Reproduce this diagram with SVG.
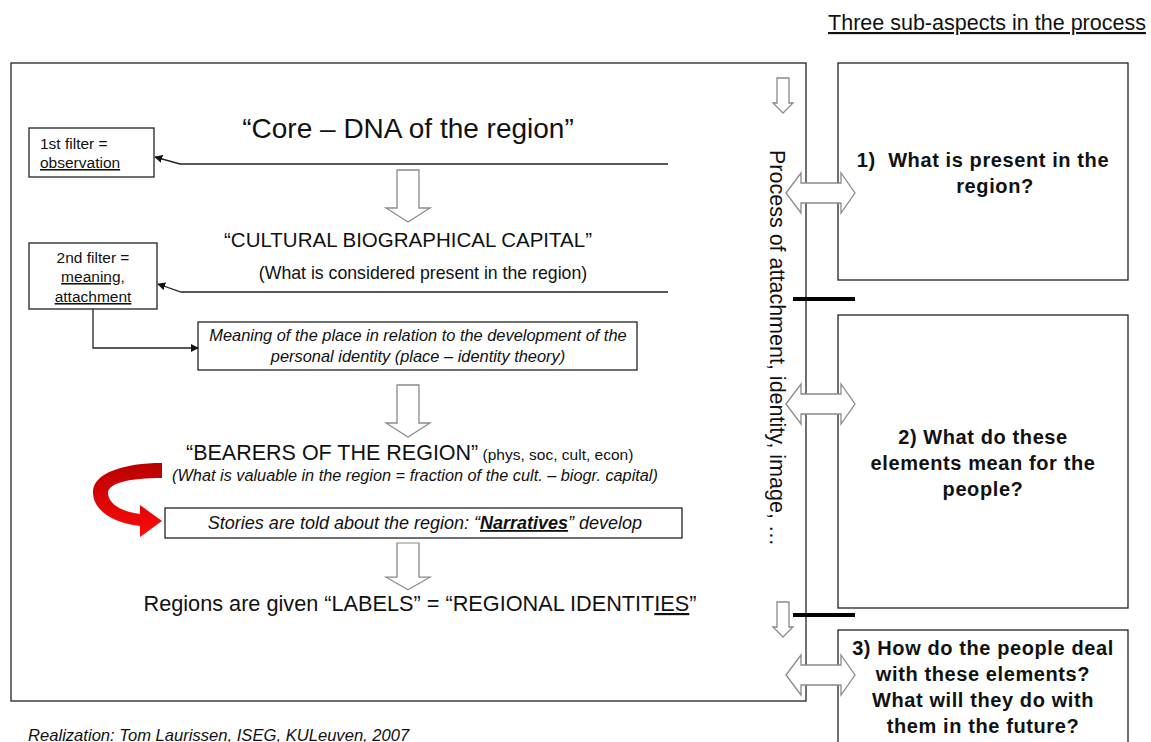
<svg xmlns="http://www.w3.org/2000/svg" width="1151" height="742" viewBox="0 0 1151 742">
  <style>
    text { font-family: "Liberation Sans", Arial, sans-serif; fill: #111; }
    .box { fill: #fff; stroke: #222; stroke-width: 1.3; }
    .flow { fill: #fff; stroke: #8a8a8a; stroke-width: 1.3; }
    .dbl { fill: #fff; stroke: #8a8a8a; stroke-width: 1.3; }
    .wire { fill: none; stroke: #222; stroke-width: 1.3; }
    .bar { stroke: #000; stroke-width: 4; }
    .it { font-style: italic; }
    .q { font-weight: bold; font-size: 20px; letter-spacing: 0.6px; }
    .u { text-decoration: underline; }
  </style>
  <defs>
    <marker id="tip" viewBox="0 0 10 10" refX="9" refY="5" markerWidth="8" markerHeight="8" markerUnits="userSpaceOnUse" orient="auto">
      <path d="M0,0 L10,5 L0,10 Z" fill="#111"/>
    </marker>
    <linearGradient id="redband" x1="0" y1="0" x2="0" y2="1">
      <stop offset="0" stop-color="#b80000"/>
      <stop offset="1" stop-color="#ff0a0a"/>
    </linearGradient>
    <!-- hollow downward block arrow, origin at the top-left of its shaft bounding box -->
    <path id="down" d="M11,0 H33 V38 H44 L22,52 L0,38 H11 Z"/>
    <path id="downSmall" d="M4,0 H16 V25 H20 L10,35 L0,25 H4 Z"/>
    <!-- two-headed block arrow centred on y=0 -->
    <path id="both" d="M786,0 L801,-20 L801,-10 L841,-10 L841,-20 L855,0 L841,20 L841,10 L801,10 L801,20 Z"/>
  </defs>

  <rect width="1151" height="742" fill="#fff"/>

  <!-- heading over the right column -->
  <text x="987" y="30" font-size="21.5" text-anchor="middle" class="u">Three sub-aspects in the process</text>

  <!-- main frame -->
  <g id="main-frame">
    <rect class="box" x="11" y="63" width="795" height="638"/>
  </g>

  <g id="core-dna">
    <text x="408" y="138" font-size="28" text-anchor="middle">“Core – DNA of the region”</text>
  </g>

  <g id="filter-1">
    <rect class="box" x="29" y="128" width="125" height="49"/>
    <text x="40" y="149" font-size="15.5">1st filter =</text>
    <text x="40" y="168" font-size="15.5" class="u">observation</text>
  </g>

  <g id="cultural-capital">
    <text x="408" y="247" font-size="20.5" text-anchor="middle">“CULTURAL BIOGRAPHICAL CAPITAL”</text>
    <text x="423" y="279" font-size="17.7" text-anchor="middle">(What is considered present in the region)</text>
  </g>

  <g id="filter-2">
    <rect class="box" x="29" y="243" width="128" height="66"/>
    <text x="93" y="263" font-size="15.5" text-anchor="middle">2nd filter =</text>
    <text x="93" y="282" font-size="15.5" text-anchor="middle" class="u">meaning,</text>
    <text x="93" y="302" font-size="15.5" text-anchor="middle" class="u">attachment</text>
  </g>

  <g id="place-identity">
    <rect class="box" x="198" y="322" width="439" height="48"/>
    <text x="418" y="341" font-size="16.4" text-anchor="middle" class="it">Meaning of the place in relation to the development of the</text>
    <text x="418" y="362" font-size="16.4" text-anchor="middle" class="it">personal identity (place – identity theory)</text>
  </g>

  <g id="bearers">
    <text x="186" y="460"><tspan font-size="21.5">“BEARERS OF THE REGION”</tspan><tspan font-size="15.5"> (phys, soc, cult, econ)</tspan></text>
    <text x="415" y="481" font-size="16.3" text-anchor="middle" class="it">(What is valuable in the region = fraction of the cult. – biogr. capital)</text>
  </g>

  <g id="narratives">
    <rect class="box" x="165" y="508" width="517" height="30"/>
    <text x="425" y="529" font-size="18" text-anchor="middle" class="it">Stories are told about the region: “<tspan font-weight="bold" class="u">Narratives</tspan>” develop</text>
  </g>

  <g id="regional-identities">
    <text x="420" y="611" font-size="21.7" text-anchor="middle">Regions are given “LABELS” = “REGIONAL IDENTIT<tspan class="u">IES</tspan>”</text>
  </g>

  <g id="aspect-1">
    <rect class="box" x="838" y="63" width="290" height="217"/>
    <text x="983" y="167" class="q" text-anchor="middle" xml:space="preserve">1)  What is present in the</text>
    <text x="995" y="193" class="q" text-anchor="middle">region?</text>
  </g>

  <g id="aspect-2">
    <rect class="box" x="838" y="315" width="290" height="293"/>
    <text x="983" y="444" class="q" text-anchor="middle">2) What do these</text>
    <text x="983" y="470" class="q" text-anchor="middle">elements mean for the</text>
    <text x="983" y="496" class="q" text-anchor="middle">people?</text>
  </g>

  <g id="aspect-3">
    <rect class="box" x="838" y="630" width="290" height="130"/>
    <text x="983" y="655" class="q" text-anchor="middle">3) How do the people deal</text>
    <text x="983" y="681" class="q" text-anchor="middle">with these elements?</text>
    <text x="983" y="707" class="q" text-anchor="middle">What will they do with</text>
    <text x="983" y="733" class="q" text-anchor="middle">them in the future?</text>
  </g>

  <g id="process-label">
    <text transform="translate(770,150) rotate(90)" font-size="21.5">Process of attachment, identity, image, …</text>
  </g>

  <g id="connectors">
    <!-- feedback lines to the filters -->
    <polyline class="wire" points="668,164 180,164 155,157" marker-end="url(#tip)"/>
    <polyline class="wire" points="668,292 181,292 158,284" marker-end="url(#tip)"/>
    <polyline class="wire" points="93,309 93,348 198,348" marker-end="url(#tip)"/>

    <!-- flow arrows down the central column -->
    <use href="#down" class="flow" transform="translate(386,170)"/>
    <use href="#down" class="flow" transform="translate(386,385)"/>
    <use href="#down" class="flow" transform="translate(386,543) scale(1,0.9)"/>

    <!-- small arrows along the process column -->
    <use href="#downSmall" class="flow" transform="translate(773,78)"/>
    <use href="#downSmall" class="flow" transform="translate(773,602)"/>

    <!-- links between the process column and the three sub-aspects -->
    <use href="#both" class="dbl" transform="translate(0,193)"/>
    <use href="#both" class="dbl" transform="translate(0,404)"/>
    <use href="#both" class="dbl" transform="translate(0,675)"/>

    <!-- separators between the sub-aspects -->
    <line class="bar" x1="793" y1="299" x2="855" y2="299"/>
    <line class="bar" x1="793" y1="615" x2="855" y2="615"/>

    <!-- curved red arrow from the bearers to the narratives -->
    <path fill="url(#redband)" d="M162,463 C124,463 93,473 93,492 C93,511 114,523 140,526 L140,537 L162,521 L140,505 L140,514 C121,512 108,503 108,493 C108,483 130,478 162,478 Z"/>
  </g>

  <text x="28" y="741" font-size="16.6" class="it">Realization: Tom Laurissen, ISEG, KULeuven, 2007</text>
</svg>
